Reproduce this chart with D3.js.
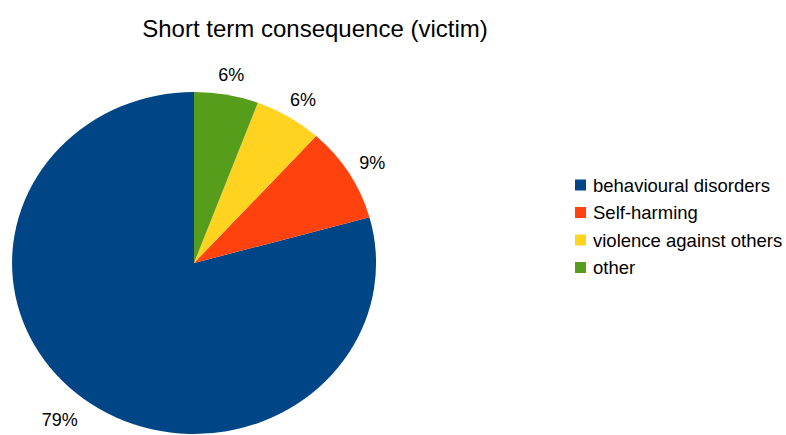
<!DOCTYPE html>
<html>
<head>
<meta charset="utf-8">
<script src="https://cdn.jsdelivr.net/npm/d3@7"></script>
<style>
  body { margin: 0; background: #fff; }
  text { font-family: "Liberation Sans", Arial, sans-serif; fill: #000; }
</style>
</head>
<body>
<div id="chart"></div>
<script>
  var categories = ["behavioural disorders", "Self-harming", "violence against others", "other"];
  var values = [79.3, 9.0, 6.0, 5.7];
  var colors = ["#004586", "#ff420e", "#ffd320", "#579d1c"];
  var title = "Short term consequence (victim)";

  var width = 786, height = 435;
  var cx = 194, cy = 263;
  var rx = 182, ry = 171;

  var svg = d3.select("#chart")
    .append("svg")
    .attr("width", width)
    .attr("height", height);

  svg.append("text")
    .attr("x", 315)
    .attr("y", 37)
    .attr("text-anchor", "middle")
    .style("font-size", "24px")
    .text(title);

  var rows = categories.map(function (c, i) {
    return {name: c, value: values[i], color: colors[i]};
  });
  var total = d3.sum(values);

  // slices run counter-clockwise from 12 o'clock
  var pie = d3.pie()
    .sort(null)
    .value(function (d) { return d.value; })
    .startAngle(0)
    .endAngle(-2 * Math.PI);

  var arc = d3.arc().innerRadius(0).outerRadius(1);

  var pieGroup = svg.append("g")
    .attr("transform", "translate(" + cx + "," + cy + ") scale(" + rx + "," + ry + ")");

  var slices = pie(rows);

  pieGroup.selectAll("path")
    .data(slices)
    .enter()
    .append("path")
    .attr("d", arc)
    .style("fill", function (d) { return d.data.color; });

  var fmt = d3.format(".0%");
  var labelH = 12;

  // labels sit just outside the rim, pushed outward by half their box
  svg.selectAll(".slice-label")
    .data(slices)
    .enter()
    .append("text")
    .attr("class", "slice-label")
    .attr("text-anchor", "middle")
    .attr("dominant-baseline", "central")
    .style("font-size", "18px")
    .text(function (d) { return fmt(d.data.value / total); })
    .attr("x", function (d) {
      var a = (d.startAngle + d.endAngle) / 2;
      var w = this.getComputedTextLength();
      var k = Math.cos(a) < 0 ? 1.12 : 1.08;
      return cx + k * rx * Math.sin(a) + Math.sin(a) * w / 2;
    })
    .attr("y", function (d) {
      var a = (d.startAngle + d.endAngle) / 2;
      var k = Math.cos(a) < 0 ? 1.12 : 1.08;
      return cy - k * ry * Math.cos(a) - Math.cos(a) * labelH / 2;
    });

  var legend = svg.append("g")
    .attr("transform", "translate(575,185)");

  var item = legend.selectAll("g")
    .data(rows)
    .enter()
    .append("g")
    .attr("transform", function (d, i) { return "translate(0," + (i * 27.5) + ")"; });

  item.append("rect")
    .attr("x", 0)
    .attr("y", -5.5)
    .attr("width", 11)
    .attr("height", 11)
    .style("fill", function (d) { return d.color; });

  item.append("text")
    .attr("x", 18)
    .attr("y", 0)
    .attr("dominant-baseline", "central")
    .style("font-size", "18.5px")
    .text(function (d) { return d.name; });
</script>
</body>
</html>
